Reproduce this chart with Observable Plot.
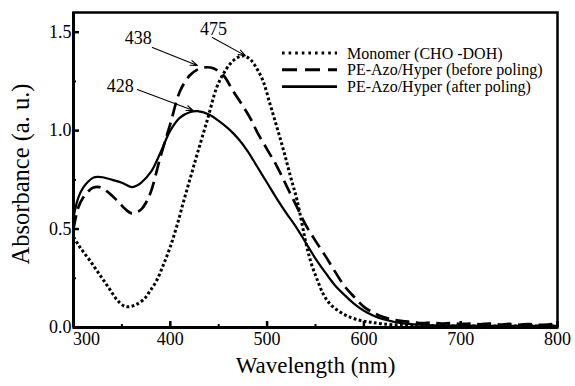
<!DOCTYPE html>
<html><head><meta charset="utf-8">
<script src="https://cdn.jsdelivr.net/npm/d3@7"></script>
<script src="https://cdn.jsdelivr.net/npm/@observablehq/plot@0.6"></script>
<style>
html,body{margin:0;padding:0;background:#fff;}
#chart{position:relative;width:575px;height:386px;}
</style></head><body><div id="chart"></div>
<script>
// Series names
const seriesNames = ["Monomer (CHO -DOH)", "PE-Azo/Hyper (before poling)", "PE-Azo/Hyper (after poling)"];

// Monomer (dotted)
const monomerX = [300,305,310,317,324,331,338,345,352,357,364,372,379,386,393,400,407,414,421,428,438,448,455,462,469,476,483,490,496,503,510,517,524,531,541,546,552,558,565,575,586,597,607,620,640,660,700,750,800];
const monomerY = [0.46,0.42,0.385,0.34,0.29,0.24,0.19,0.14,0.11,0.105,0.115,0.14,0.185,0.24,0.32,0.41,0.52,0.645,0.765,0.885,1.05,1.22,1.29,1.34,1.37,1.38,1.36,1.31,1.25,1.135,1.02,0.90,0.77,0.645,0.41,0.32,0.24,0.17,0.12,0.08,0.052,0.035,0.027,0.018,0.012,0.01,0.008,0.008,0.008];

// PE-Azo/Hyper before poling (dashed)
const beforeX = [300,305,310,315,320,327,335,345,355,360,365,370,375,380,390,400,410,420,428,438,445,455,465,475,483,490,500,510,520,530,540,550,560,570,580,590,600,610,620,630,640,650,660,670,680,690,700,710,720,730,740,750,760,770,780,790,800];
const beforeY = [0.50,0.61,0.66,0.69,0.71,0.713,0.69,0.645,0.595,0.58,0.585,0.60,0.635,0.69,0.87,1.034,1.20,1.28,1.31,1.322,1.315,1.28,1.20,1.125,1.06,0.99,0.905,0.82,0.72,0.62,0.52,0.44,0.365,0.285,0.21,0.155,0.105,0.075,0.053,0.04,0.032,0.028,0.022,0.025,0.02,0.022,0.018,0.02,0.016,0.02,0.015,0.018,0.014,0.017,0.013,0.015,0.02];

// PE-Azo/Hyper after poling (solid)
const afterX = [300,305,310,315,320,325,330,340,350,360,365,370,380,390,400,410,420,428,440,450,460,470,480,490,500,510,520,530,540,550,560,570,580,590,600,610,620,630,640,660,680,700,750,800];
const afterY = [0.56,0.66,0.71,0.74,0.76,0.765,0.763,0.75,0.735,0.713,0.72,0.736,0.79,0.89,1.0,1.066,1.093,1.099,1.082,1.05,1.01,0.96,0.895,0.815,0.735,0.655,0.58,0.51,0.43,0.35,0.28,0.215,0.165,0.12,0.085,0.06,0.042,0.03,0.021,0.014,0.01,0.01,0.008,0.008];

// Ticks
const xTicks = [300,400,500,600,700,800];
const xMinorTicks = [350,450,550,650,750];
const yTicks = [0,0.5,1.0,1.5];
const yMinorTicks = [0.25,0.75,1.25];

// Peak annotations (data units)
const peakLabels = ["475","438","428"];
const peakTextX = [444.5,366.9,348.3];
const peakTextY = [1.513,1.468,1.224];
const arrowFromX = [443.4,381.5,365.9];
const arrowFromY = [1.473,1.422,1.209];
const arrowToX = [477.5,428,423.8];
const arrowToY = [1.381,1.331,1.102];

const toRows = (xs, ys) => xs.map((x, i) => ({x, y: ys[i]}));
const monomer = toRows(monomerX, monomerY);
const before = toRows(beforeX, beforeY);
const after = toRows(afterX, afterY);
const peaks = peakLabels.map((t, i) => ({t, x: peakTextX[i], y: peakTextY[i], x1: arrowFromX[i], y1: arrowFromY[i], x2: arrowToX[i], y2: arrowToY[i]}));

const font = "Liberation Serif";
const W = 575, H = 386, mT = 12, mR = 18, mB = 59, mL = 73;
const fw = W - mL - mR, fh = H - mT - mB;

const chart = Plot.plot({
  width: W,
  height: H,
  marginTop: mT,
  marginRight: mR,
  marginBottom: mB,
  marginLeft: mL,
  style: {fontFamily: font, background: "#fff", color: "#000"},
  x: {domain: [300, 800]},
  y: {domain: [0, 1.6]},
  marks: [
    Plot.line(monomer, {x: "x", y: "y", stroke: "#000", strokeWidth: 3, strokeDasharray: "2.8,2.4", strokeLinecap: "butt", curve: "catmull-rom"}),
    Plot.line(before, {x: "x", y: "y", stroke: "#000", strokeWidth: 2.7, strokeDasharray: "14,6.5", strokeLinecap: "butt", curve: "catmull-rom"}),
    Plot.line(after, {x: "x", y: "y", stroke: "#000", strokeWidth: 2.2, curve: "catmull-rom"}),
    Plot.arrow(peaks, {x1: "x1", y1: "y1", x2: "x2", y2: "y2", stroke: "#000", strokeWidth: 1.1, headLength: 10, headAngle: 40}),
    Plot.text(peaks, {x: "x", y: "y", text: "t", fontSize: 18, fontFamily: font, fill: "#000"}),
    // inward ticks
    Plot.ruleX(xTicks, {insetTop: fh - 6, stroke: "#000", strokeWidth: 2.5}),
    Plot.ruleX(xMinorTicks, {insetTop: fh - 3, stroke: "#000", strokeWidth: 2}),
    Plot.ruleY(yTicks, {insetRight: fw - 6, stroke: "#000", strokeWidth: 2.5}),
    Plot.ruleY(yMinorTicks, {insetRight: fw - 3, stroke: "#000", strokeWidth: 2}),
    // tick labels
    Plot.axisX(xTicks.slice(1), {tickSize: 0, tickPadding: 5, fontSize: 18, fontFamily: font, fill: "#000", label: null}),
    Plot.axisX(xTicks.slice(0, 1), {tickSize: 0, tickPadding: 5, dx: 13, fontSize: 18, fontFamily: font, fill: "#000", label: null}),
    Plot.axisY(yTicks, {tickSize: 0, tickPadding: 2, fontSize: 18, fontFamily: font, fill: "#000", label: null, tickFormat: d3.format(".1f")}),
    Plot.frame({stroke: "#000", strokeWidth: 2.5}),
    Plot.ruleY([0], {stroke: "#000", strokeWidth: 3}),
    Plot.ruleX([300], {stroke: "#000", strokeWidth: 3}),
    Plot.text(["Wavelength (nm)"], {frameAnchor: "bottom", dy: 45, fontSize: 23, fontFamily: font, fill: "#000"}),
    Plot.text(["Absorbance (a. u.)"], {frameAnchor: "left", textAnchor: "middle", lineAnchor: "middle", rotate: -90, dx: -52, dy: 4, fontSize: 24.5, fontFamily: font, fill: "#000"})
  ]
});
document.getElementById("chart").appendChild(chart);

// Legend (inside the plot area, top right)
const svg = d3.select(chart);
const legend = svg.append("g").attr("font-family", font).attr("font-size", 16).attr("text-anchor", "start");
const legendStyles = [
  {dash: "2.6,4", width: 3},
  {dash: "15,8", width: 3},
  {dash: null, width: 2.6}
];
seriesNames.forEach((name, i) => {
  const y = 53 + i * 16.8;
  const ln = legend.append("line").attr("x1", 282).attr("x2", 337).attr("y1", y).attr("y2", y)
    .attr("stroke", "#000").attr("stroke-width", legendStyles[i].width);
  if (legendStyles[i].dash) ln.attr("stroke-dasharray", legendStyles[i].dash);
  legend.append("text").attr("x", 347).attr("y", y).attr("dy", "0.35em").attr("fill", "#000").attr("text-anchor", "start").text(name);
});
</script>
</body></html>
